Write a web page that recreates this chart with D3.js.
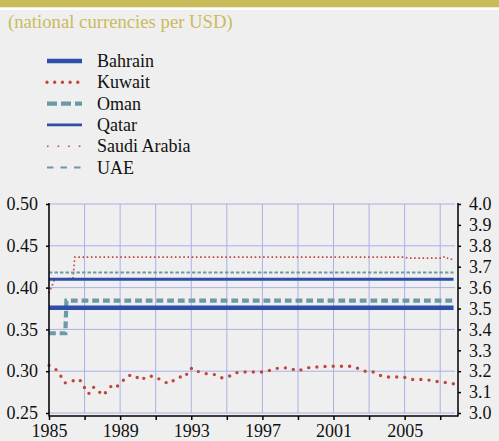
<!DOCTYPE html>
<html>
<head>
<meta charset="utf-8">
<script src="https://cdn.jsdelivr.net/npm/d3@7"></script>
<style>
  html, body { margin: 0; padding: 0; background: #efefef; }
  svg { display: block; font-family: "Liberation Serif", "DejaVu Serif", serif; }
</style>
</head>
<body>
<div id="chart"></div>
<script>
// exchange rates, national currencies per USD
const kuwaitYears = [1985.00, 1985.39, 1985.67, 1985.90, 1986.20, 1986.61, 1986.87, 1987.04, 1987.23, 1987.47,
  1987.71, 1987.98, 1988.28, 1988.56, 1988.84, 1989.17, 1989.49, 1989.81, 1990.15, 1990.52,
  1990.92, 1991.33, 1991.72, 1992.01, 1992.30, 1992.68, 1992.85, 1993.09, 1993.43, 1993.86,
  1994.29, 1994.68, 1995.07, 1995.45, 1995.86, 1996.63, 1997.17, 1997.64, 1998.13, 1998.54,
  1998.97, 1999.34, 1999.76, 2000.19, 2000.66, 2001.12, 2001.59, 2002.01, 2002.43, 2002.88,
  2003.28, 2003.63, 2004.01, 2004.49, 2004.94, 2005.34, 2005.80, 2006.22, 2006.69, 2007.12,
  2007.47, 2007.75];
const kuwaitRates = [0.307, 0.302, 0.294, 0.286, 0.287, 0.291, 0.287, 0.278, 0.273, 0.281,
  0.279, 0.271, 0.276, 0.284, 0.282, 0.289, 0.295, 0.295, 0.289, 0.294,
  0.294, 0.289, 0.285, 0.289, 0.293, 0.293, 0.302, 0.304, 0.299, 0.297,
  0.296, 0.292, 0.293, 0.298, 0.299, 0.299, 0.299, 0.303, 0.304, 0.304,
  0.300, 0.303, 0.305, 0.305, 0.306, 0.306, 0.306, 0.306, 0.303, 0.299,
  0.299, 0.295, 0.293, 0.293, 0.293, 0.290, 0.290, 0.290, 0.288, 0.287,
  0.286, 0.285];

const bahrainYears = [1985, 2007.75];
const bahrainRates = [0.376, 0.376];

const omanYears = [1985, 1985.92, 1985.98, 2007.75];
const omanRates = [0.3454, 0.3454, 0.3845, 0.3845];

const qatarYears = [1985, 2007.75];
const qatarRates = [3.64, 3.64];

const saudiYears = [1985, 1985.33, 1986.35, 1986.45, 2005.0, 2005.2, 2007.1, 2007.25, 2007.5, 2007.75];
const saudiRates = [3.573, 3.642, 3.643, 3.746, 3.746, 3.741, 3.741, 3.749, 3.736, 3.736];

const uaeYears = [1985, 2007.75];
const uaeRates = [3.6725, 3.6725];

const leftTicks = [0.25, 0.30, 0.35, 0.40, 0.45, 0.50];
const rightTicks = [3.0, 3.1, 3.2, 3.3, 3.4, 3.5, 3.6, 3.7, 3.8, 3.9, 4.0];
const yearTicks = [1985, 1987, 1989, 1991, 1993, 1995, 1997, 1999, 2001, 2003, 2005, 2007];
const yearLabels = [1985, 1989, 1993, 1997, 2001, 2005];

const W = 499, H = 441;
const blue = "#2f4ea8", red = "#c0473a", teal = "#6b9aa6", gold = "#cabb5a";

const svg = d3.select("#chart").append("svg")
  .attr("width", W).attr("height", H);

svg.append("rect").attr("width", W).attr("height", H).attr("fill", "#efefef");
// top band
svg.append("rect").attr("x", 0).attr("y", 0).attr("width", W).attr("height", 7.5).attr("fill", gold);
svg.append("rect").attr("x", 0).attr("y", 7.5).attr("width", W).attr("height", 2.5).attr("fill", "#ffffff");

svg.append("text")
  .attr("x", 8).attr("y", 28)
  .attr("fill", gold)
  .attr("font-size", 18.7)
  .text("(national currencies per USD)");

// scales
const x = d3.scaleLinear().domain([1985, 2008]).range([49, 458]);
const yL = d3.scaleLinear().domain([0.25, 0.50]).range([413, 204]);
const yR = d3.scaleLinear().domain([3.0, 4.0]).range([413, 204]);
const plotRight = 455;

// grid
const grid = svg.append("g").attr("stroke", "#aab0e6").attr("stroke-width", 1);
grid.selectAll("line.v").data(yearTicks).enter().append("line")
  .attr("x1", d => x(d)).attr("x2", d => x(d))
  .attr("y1", yL(0.50)).attr("y2", yL(0.25));
grid.selectAll("line.h").data(leftTicks).enter().append("line")
  .attr("x1", x(1985)).attr("x2", plotRight)
  .attr("y1", d => yL(d)).attr("y2", d => yL(d));

// series
const series = [
  { name: "Bahrain", years: bahrainYears, vals: bahrainRates, y: yL, color: blue, width: 4.5, dash: null },
  { name: "Kuwait", years: kuwaitYears, vals: kuwaitRates, y: yL, color: red, width: 3.4, dash: "0,8.2", cap: "round" },
  { name: "Oman", years: omanYears, vals: omanRates, y: yL, color: teal, width: 4.2, dash: "6.8,3.9" },
  { name: "Qatar", years: qatarYears, vals: qatarRates, y: yR, color: blue, width: 2.8, dash: null },
  { name: "Saudi Arabia", years: saudiYears, vals: saudiRates, y: yR, color: red, width: 1.6, dash: "1.6,2.6" },
  { name: "UAE", years: uaeYears, vals: uaeRates, y: yR, color: teal, width: 2, dash: "3.4,2.1" }
];
const legendDash = ["", "0,7.7", "10,4", "", "1.6,9", "6.5,7"];

const drawOrder = ["Saudi Arabia", "UAE", "Qatar", "Oman", "Bahrain", "Kuwait"];
drawOrder.forEach(n => {
  const s = series.find(d => d.name === n);
  const line = d3.line()
    .x((d, i) => x(s.years[i]))
    .y(d => s.y(d));
  svg.append("path")
    .datum(s.vals)
    .attr("d", line)
    .attr("fill", "none")
    .attr("stroke", s.color)
    .attr("stroke-width", s.width)
    .attr("stroke-dasharray", s.dash)
    .attr("stroke-linecap", s.cap || "butt");
});

// axes
const axisG = svg.append("g");

const left = axisG.append("g").attr("transform", `translate(${x(1985)},0)`)
  .call(d3.axisLeft(yL).tickValues(leftTicks).tickFormat(d3.format(".2f")).tickSize(3).tickPadding(8));
const right = axisG.append("g").attr("transform", `translate(${x(2008)},0)`)
  .call(d3.axisRight(yR).tickValues(rightTicks).tickFormat(d3.format(".1f")).tickSize(3).tickPadding(8));
const bottom = axisG.append("g").attr("transform", "translate(0,416)")
  .call(d3.axisBottom(x).tickValues(yearTicks)
    .tickFormat(d => yearLabels.includes(d) ? String(d) : "").tickSize(4).tickPadding(4));

[left, right, bottom].forEach(g => {
  g.select(".domain").remove();
  g.selectAll(".tick line").attr("stroke", "#000").attr("stroke-width", 1.5);
  g.selectAll(".tick text").attr("fill", "#111").attr("font-size", 18)
    .attr("font-family", "'Liberation Serif', serif");
});

// axis lines
axisG.append("line").attr("x1", x(1985)).attr("x2", x(1985)).attr("y1", 203).attr("y2", 416.5)
  .attr("stroke", "#000").attr("stroke-width", 1.5);
axisG.append("line").attr("x1", x(2008)).attr("x2", x(2008)).attr("y1", 203).attr("y2", 416.5)
  .attr("stroke", "#000").attr("stroke-width", 1.5);
axisG.append("line").attr("x1", x(1985)).attr("x2", x(2008)).attr("y1", 416).attr("y2", 416)
  .attr("stroke", "#000").attr("stroke-width", 1.5);

// legend
const legend = svg.append("g").attr("transform", "translate(47,61)");
const rows = legend.selectAll("g").data(series).enter().append("g")
  .attr("transform", (d, i) => `translate(0,${i * 21.3})`);
rows.append("line")
  .attr("x1", 0).attr("x2", 35)
  .attr("stroke", d => d.color)
  .attr("stroke-width", d => d.name === "Saudi Arabia" ? 1.6 : d.width)
  .attr("stroke-dasharray", (d, i) => legendDash[i] || null)
  .attr("stroke-linecap", d => d.cap || "butt");
rows.append("text")
  .attr("x", 50).attr("y", 6)
  .attr("font-size", 18)
  .attr("fill", "#111")
  .text(d => d.name);
</script>
</body>
</html>
